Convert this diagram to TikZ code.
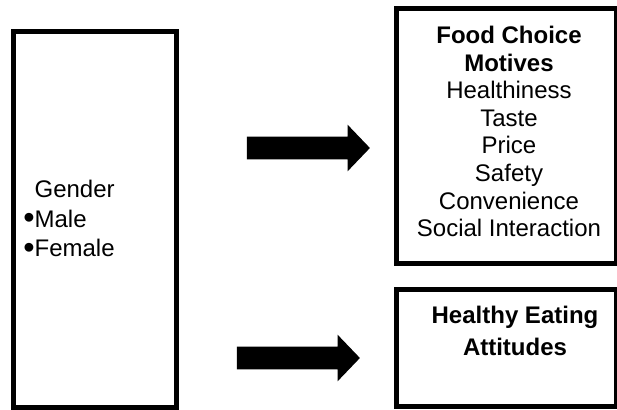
\documentclass[tikz,border=0pt]{standalone}
\usepackage{fontspec}
\usepackage{graphicx}
\setmainfont{Liberation Sans}
\usetikzlibrary{
  positioning,
  shapes.arrows
}
\newcommand{\bigbullet}{\raisebox{-0.07em}{\scalebox{1.35}{\textbullet}}}

\begin{document}
\begin{tikzpicture}[x=0.75pt,y=-0.75pt,
    box/.style={draw,rectangle,line width=3.75pt,inner sep=0pt},
    bigarrow/.style={single arrow,fill=black,draw=none,inner xsep=0pt,inner ysep=8.25pt,
      minimum height=92.25pt,
      single arrow head extend=9pt,single arrow tip angle=92.5},
    txt/.style={inner sep=0pt,align=center}]
            \useasboundingbox (0,0) rectangle (617,410);
            % boxes
            \node[box,minimum width=122.1pt,minimum height=281.6pt,
              inner xsep=7.4pt,text width=107pt,align=left,
              font=\fontsize{18pt}{22.1pt}\selectfont] (gender) at (94.6,219.4)
              {\hphantom{\bigbullet}Gender\\\bigbullet Male\\\bigbullet Female};
            \node[box,minimum width=165.1pt,minimum height=191.6pt] (motives) at (506.75,136.25) {};
            \node[box,minimum width=165.1pt,minimum height=87.75pt] (attitudes) at (506.75,347.5) {};
            % texts
            \node[txt,font=\fontsize{18pt}{20.7pt}\selectfont] (motivestext) at (509,131.5)
              {\textbf{Food Choice}\\\textbf{Motives}\\Healthiness\\Taste\\Price\\Safety\\Convenience\\Social Interaction};
            \node[txt,font=\fontsize{18pt}{23.8pt}\selectfont\bfseries] (attitudestext) at (515,331)
              {Healthy Eating\\Attitudes};
            % arrows
            \node[bigarrow] (toparrow) at (303,148) {};
            \node[bigarrow] (lowarrow) at (293,358) {};
        \end{tikzpicture}
\end{document}
